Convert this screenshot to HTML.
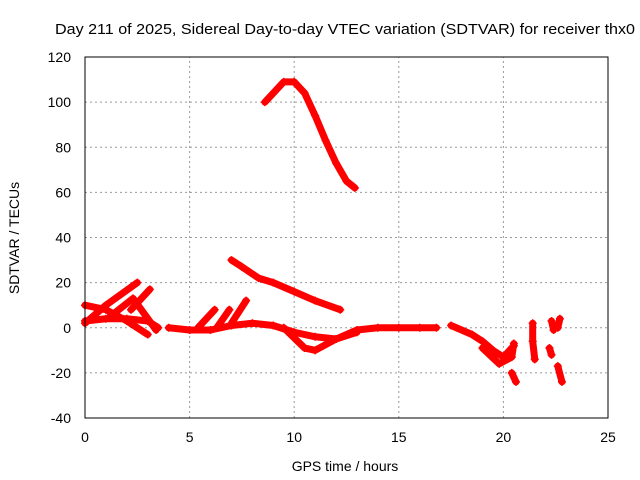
<!DOCTYPE html>
<html><head><meta charset="utf-8"><style>
body{margin:0;background:#fff;}
svg{display:block;font-family:"Liberation Sans",sans-serif;font-size:14px;}
</style></head><body>
<svg id="c" width="640" height="480">
<text x="345" y="34" text-anchor="middle" font-size="15" textLength="580" lengthAdjust="spacingAndGlyphs">Day 211 of 2025, Sidereal Day-to-day VTEC variation (SDTVAR) for receiver thx0</text>
<text x="345" y="471" text-anchor="middle">GPS time / hours</text>
<text x="19" y="238" text-anchor="middle" transform="rotate(-90 19 238)">SDTVAR / TECUs</text>
<g id="grid"></g><g id="marks"></g>
<rect x="85" y="57" width="523" height="361" fill="none" stroke="#000" stroke-width="1"/>
</svg>
<script>
const xTicks=[0,5,10,15,20,25];
const yTicks=[-40,-20,0,20,40,60,80,100,120];
const arcTrack=[[8.6,100],[9.0,104],[9.5,109],[10.0,109],[10.5,104],[11,94],[11.5,83],[12,73],[12.5,65],[12.9,62]];
const descTrack=[[7.0,30],[7.5,27],[8.3,22],[9,20],[10,16],[11,12],[12.2,8]];
const baseTrack=[[4.0,0],[5,-1],[6,-1],[7,1],[8,2],[9,1],[10,-2],[11,-4],[12,-5],[13,-1],[14,0],[15,0],[16,0],[16.8,0]];
const dipTrack=[[9.5,0],[10.5,-9],[11,-10],[12,-5],[13,-2]];
const early1=[[0,3],[1,4],[2,4],[3,3],[3.5,0]];
const early2=[[0,10],[1,8],[2,3],[3,-3]];
const early3=[[0,2],[1,10],[2.5,20]];
const early4=[[1.2,5],[2.3,13],[3.4,-1]];
const early5=[[2.2,8],[3.1,17]];
const spike1=[[5.4,0],[6.2,8]];
const spike2=[[6.3,0],[6.9,8]];
const spike3=[[7.0,2],[7.7,12]];
const late1=[[17.5,1],[18.5,-3],[19,-6],[19.5,-10],[20,-13],[20.5,-8]];
const late2=[[19,-9],[19.8,-16],[20.4,-13],[20.5,-7]];
const late3=[[20.4,-20],[20.6,-24]];
const late4=[[21.4,2],[21.4,-6],[21.5,-14]];
const late5=[[22.3,3],[22.4,-1]];
const late6=[[22.2,-9],[22.3,-12]];
const late7=[[22.7,4],[22.6,0]];
const late8=[[22.6,-17],[22.8,-24]];
const tracks=[arcTrack,descTrack,baseTrack,dipTrack,early1,early2,early3,early4,early5,spike1,spike2,spike3,late1,late2,late3,late4,late5,late6,late7,late8];
const X0=85,X1=608,Y0=418,Y1=57;
const sx=v=>X0+(v-0)/25*(X1-X0);
const sy=v=>Y0-(v+40)/160*(Y0-Y1);
const NS="http://www.w3.org/2000/svg";
const grid=document.getElementById('grid'),marks=document.getElementById('marks'),svg=document.getElementById('c');
function mk(t,a,p){const e=document.createElementNS(NS,t);for(const k in a)e.setAttribute(k,a[k]);p.appendChild(e);return e;}
xTicks.forEach(v=>{const x=sx(v);
 if(v>0&&v<25){const l=mk('line',{x1:x,x2:x,y1:Y0,y2:Y1,stroke:'#999','stroke-dasharray':'2,3'},grid);
 
 }
 const t=mk('text',{x:x,y:Y0+24,'text-anchor':'middle'},svg);t.textContent=v;
 
 });
yTicks.forEach(v=>{const y=sy(v);
 if(v>-40&&v<120){const l=mk('line',{x1:X0,x2:X1,y1:y,y2:y,stroke:'#999','stroke-dasharray':'2,3'},grid);
 
 }
 const t=mk('text',{x:X0-14,y:y+5,'text-anchor':'end'},svg);t.textContent=v;
 
 });
tracks.forEach(tr=>{
 const p=mk('polyline',{points:tr.map(d=>sx(d[0])+','+sy(d[1])).join(' '),fill:'none',stroke:'#f00','stroke-width':7,'stroke-linejoin':'round','stroke-linecap':'round'},marks);
 
 
 tr.forEach(d=>{const x=sx(d[0]),y=sy(d[1]);
  const m=mk('path',{d:`M${x-4},${y}h8M${x},${y-4}v8`,stroke:'#f00','stroke-width':1.5},marks);
  
  });
});
</script>
</body></html>
